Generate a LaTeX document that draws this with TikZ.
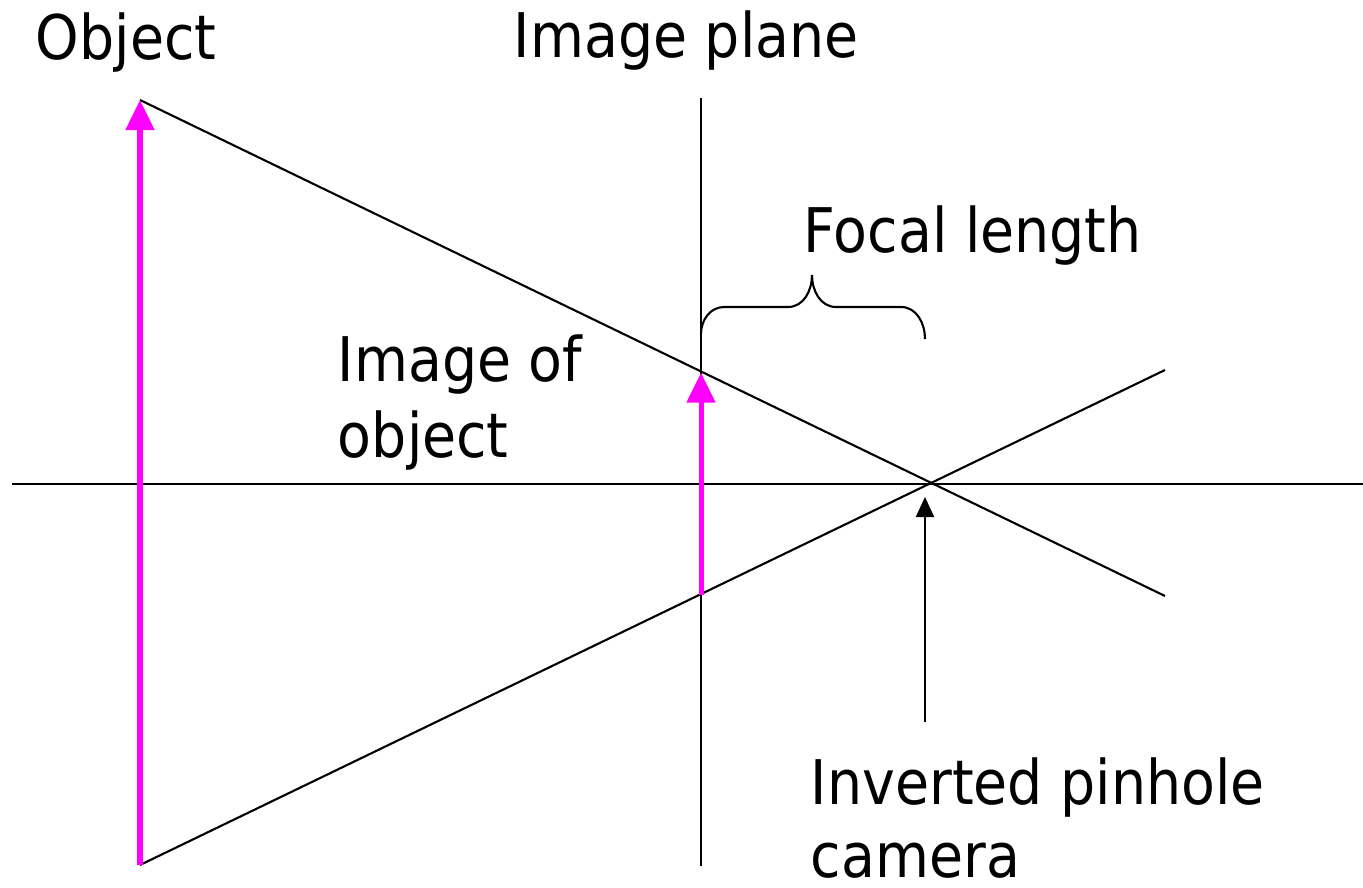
\documentclass[tikz,border=0pt]{standalone}
\usepackage{fontspec}
\setmainfont{DejaVu Sans}
\usepackage{tikz}
\usetikzlibrary{arrows.meta,positioning,calc}
\definecolor{objmagenta}{RGB}{255,0,255}

\begin{document}
\begin{tikzpicture}[x=0.01cm, y=-0.01cm, line width=0.6pt,
  every node/.style={font=\fontsize{17.5}{21.5}\selectfont, inner sep=0pt, transform shape, xscale=0.9, align=left},
  objarrow/.style={draw=objmagenta, fill=objmagenta, line width=0.05cm, -{Triangle[length=0.3cm, width=0.28cm]}}]
\useasboundingbox (0,0) rectangle (1363,888);

% points of the construction
\coordinate (objtop) at (140,100);
\coordinate (objbot) at (140,865);
\coordinate (pin) at (930,484);
\coordinate (imgtop) at (701,372.7);
\coordinate (imgbot) at (701,594.6);
\coordinate (rayend1) at (1165,596);
\coordinate (rayend2) at (1165,370);
\coordinate (planetop) at (701,98);
\coordinate (planebot) at (701,866);
\coordinate (axisl) at (12,484);
\coordinate (axisr) at (1363,484);
\coordinate (pinfoot) at (925,722);
\coordinate (pinhead) at (925,497);

\node[anchor=base west] (objlbl) at (35,60) {Object};
\node[anchor=base west] (planelbl) at (513,58) {Image plane};
\node[anchor=base west] (imglbl) at (337,457) {Image of\\object};
\node[anchor=base west] (foclbl) at (803,252) {Focal length};
\node[anchor=base west, font=\fontsize{17.5}{20.5}\selectfont] (camlbl) at (810,877) {Inverted pinhole\\camera};

\draw (axisl) -- (axisr);
\draw (planetop) -- (planebot);
\draw (objtop) -- (rayend1);
\draw (objbot) -- (rayend2);

\draw[objarrow] (objbot) -- (objtop);
\draw[objarrow] (imgbot) -- (imgtop);
\draw[-{Triangle[length=0.2cm, width=0.18cm]}] (pinfoot) -- (pinhead);

% brace over the focal length
\draw (701,334) to[out=90, in=180] (724,307) -- (788,307)
  to[out=0, in=-90] (812,275) to[out=-90, in=180] (836,307) -- (901,307)
  to[out=0, in=90] (925,339);
\end{tikzpicture}
\end{document}
